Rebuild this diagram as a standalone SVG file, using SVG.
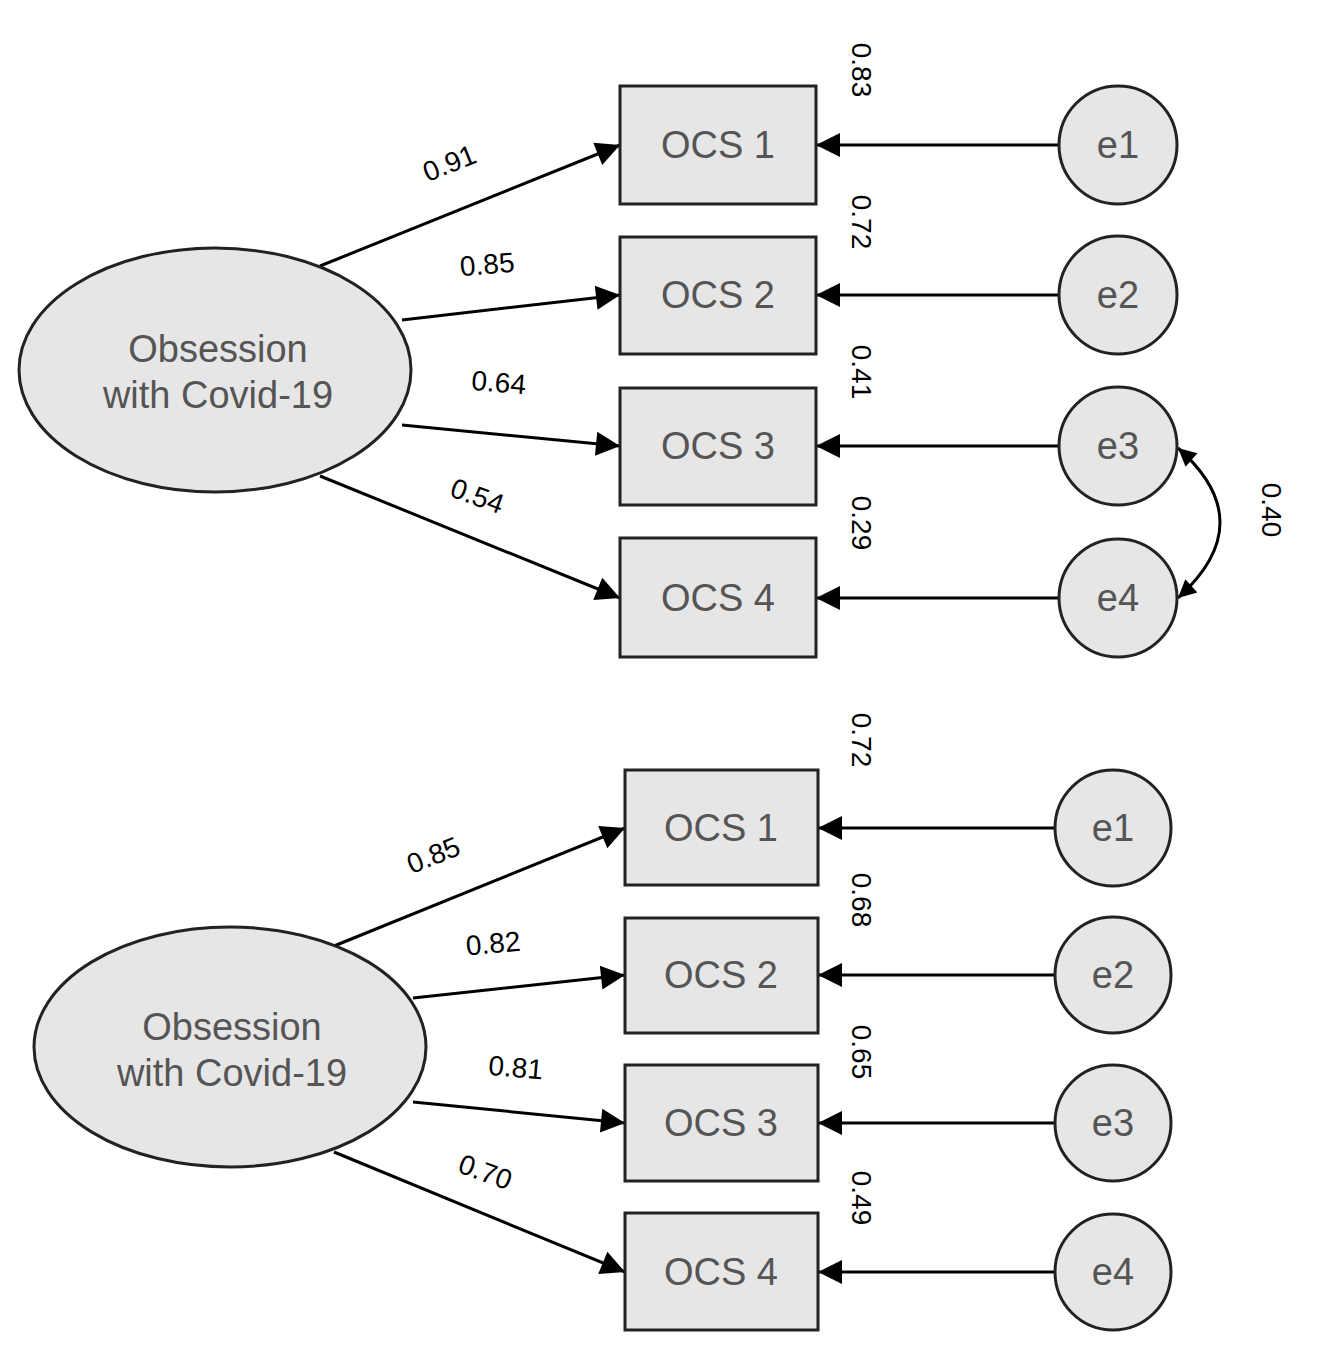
<svg xmlns="http://www.w3.org/2000/svg" width="1322" height="1364" viewBox="0 0 1322 1364">
<defs>
<marker id="a" viewBox="0 0 10 10" refX="10" refY="5" markerWidth="24" markerHeight="18" markerUnits="userSpaceOnUse" orient="auto-start-reverse"><path d="M0,0 L10,5 L0,10z" fill="#000"/></marker>
<marker id="b" viewBox="0 0 10 10" refX="10" refY="5" markerWidth="40" markerHeight="24" markerUnits="userSpaceOnUse" orient="auto"><path d="M0,0 L10,5 L0,10z" fill="#000"/></marker>
</defs>
<style>
.n{fill:#e6e6e6;stroke:#222;stroke-width:3}
.t{font-family:"Liberation Sans",Arial,sans-serif;font-size:38px;fill:#555;text-anchor:middle}
.v{font-family:"Liberation Sans",Arial,sans-serif;font-size:28px;fill:#000;text-anchor:middle}
.c line{stroke:#000;stroke-width:3;fill:none;marker-end:url(#b)}
</style>
<rect width="1322" height="1364" fill="#fff"/>
<g class="c">
<line x1="320" y1="266" x2="620" y2="145"/>
<line x1="402" y1="320" x2="620" y2="295"/>
<line x1="402" y1="425" x2="620" y2="446"/>
<line x1="320" y1="476" x2="620" y2="598"/>
<line x1="1058" y1="145" x2="816" y2="145"/>
<line x1="1058" y1="295" x2="816" y2="295"/>
<line x1="1058" y1="446" x2="816" y2="446"/>
<line x1="1058" y1="598" x2="816" y2="598"/>
<path d="M1178,448 Q1262,522 1178,598" fill="none" stroke="#000" stroke-width="3" marker-start="url(#a)" marker-end="url(#a)"/>
<line x1="334" y1="946" x2="625" y2="828"/>
<line x1="413" y1="998" x2="625" y2="975"/>
<line x1="413" y1="1102" x2="625" y2="1123"/>
<line x1="334" y1="1152" x2="625" y2="1272"/>
<line x1="1055" y1="828" x2="818" y2="828"/>
<line x1="1055" y1="975" x2="818" y2="975"/>
<line x1="1055" y1="1123" x2="818" y2="1123"/>
<line x1="1055" y1="1272" x2="818" y2="1272"/>
</g>
<g id="F1"><ellipse class="n" cx="215" cy="370" rx="196" ry="122"/><text class="t" x="218" y="362">Obsession</text><text class="t" x="218" y="408">with Covid-19</text></g>
<g id="A1"><rect class="n" x="620" y="86" width="196" height="118"/><text class="t" x="718" y="158">OCS 1</text></g>
<g id="A2"><rect class="n" x="620" y="237" width="196" height="117"/><text class="t" x="718" y="308">OCS 2</text></g>
<g id="A3"><rect class="n" x="620" y="388" width="196" height="117"/><text class="t" x="718" y="459">OCS 3</text></g>
<g id="A4"><rect class="n" x="620" y="538" width="196" height="119"/><text class="t" x="718" y="611">OCS 4</text></g>
<g id="E1"><circle class="n" cx="1118" cy="145" r="59"/><text class="t" x="1118" y="158">e1</text></g>
<g id="E2"><circle class="n" cx="1118" cy="295" r="59"/><text class="t" x="1118" y="308">e2</text></g>
<g id="E3"><circle class="n" cx="1118" cy="446" r="59"/><text class="t" x="1118" y="459">e3</text></g>
<g id="E4"><circle class="n" cx="1118" cy="598" r="59"/><text class="t" x="1118" y="611">e4</text></g>
<g id="F2"><ellipse class="n" cx="230" cy="1047" rx="196" ry="120"/><text class="t" x="232" y="1040">Obsession</text><text class="t" x="232" y="1086">with Covid-19</text></g>
<g id="B1"><rect class="n" x="625" y="770" width="193" height="115"/><text class="t" x="721" y="841">OCS 1</text></g>
<g id="B2"><rect class="n" x="625" y="918" width="193" height="115"/><text class="t" x="721" y="988">OCS 2</text></g>
<g id="B3"><rect class="n" x="625" y="1065" width="193" height="116"/><text class="t" x="721" y="1136">OCS 3</text></g>
<g id="B4"><rect class="n" x="625" y="1213" width="193" height="117"/><text class="t" x="721" y="1285">OCS 4</text></g>
<g id="G1"><circle class="n" cx="1113" cy="828" r="58"/><text class="t" x="1113" y="841">e1</text></g>
<g id="G2"><circle class="n" cx="1113" cy="975" r="58"/><text class="t" x="1113" y="988">e2</text></g>
<g id="G3"><circle class="n" cx="1113" cy="1123" r="58"/><text class="t" x="1113" y="1136">e3</text></g>
<g id="G4"><circle class="n" cx="1113" cy="1272" r="58"/><text class="t" x="1113" y="1285">e4</text></g>
<g id="labels">
<text class="v" transform="translate(453,172) rotate(-22)">0.91</text>
<text class="v" transform="translate(488,274) rotate(-5)">0.85</text>
<text class="v" transform="translate(498,392) rotate(5)">0.64</text>
<text class="v" transform="translate(474,505) rotate(20)">0.54</text>
<text class="v" transform="translate(437,864) rotate(-22)">0.85</text>
<text class="v" transform="translate(494,953) rotate(-5)">0.82</text>
<text class="v" transform="translate(515,1077) rotate(5)">0.81</text>
<text class="v" transform="translate(482,1181) rotate(20)">0.70</text>
<text class="v" transform="translate(852,70) rotate(90)">0.83</text>
<text class="v" transform="translate(852,222) rotate(90)">0.72</text>
<text class="v" transform="translate(852,372) rotate(90)">0.41</text>
<text class="v" transform="translate(852,523) rotate(90)">0.29</text>
<text class="v" transform="translate(1262,510) rotate(90)">0.40</text>
<text class="v" transform="translate(852,740) rotate(90)">0.72</text>
<text class="v" transform="translate(852,900) rotate(90)">0.68</text>
<text class="v" transform="translate(852,1052) rotate(90)">0.65</text>
<text class="v" transform="translate(852,1198) rotate(90)">0.49</text>
</g>
</svg>
